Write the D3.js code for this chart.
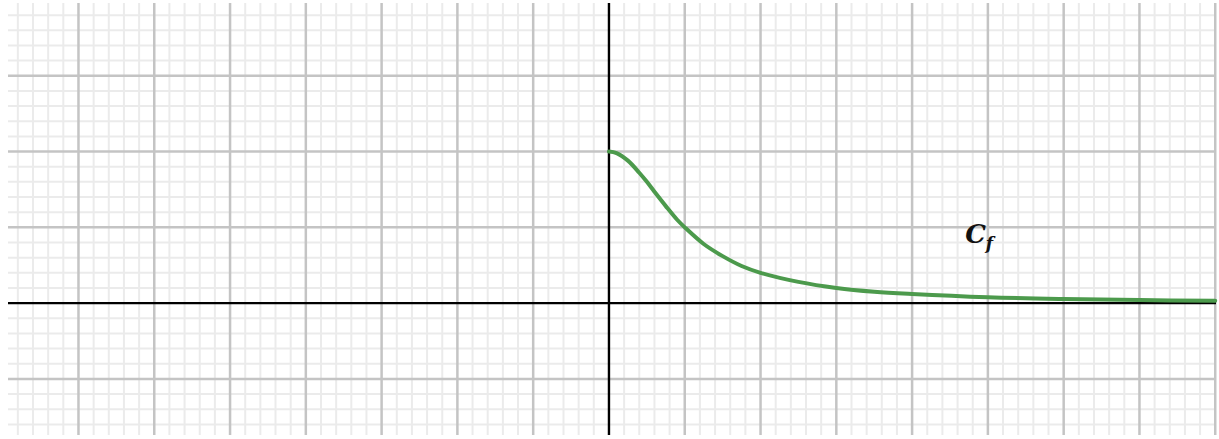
<!DOCTYPE html>
<html>
<head>
<meta charset="utf-8">
<script src="https://cdn.jsdelivr.net/npm/d3@7"></script>
<style>
  body { margin: 0; background: #fff; }
</style>
</head>
<body>
<div id="chart"></div>
<script>
const xs = [0, 0.1, 0.25, 0.4, 0.5, 0.6, 0.75, 0.9, 1, 1.25, 1.5, 1.75, 2, 2.5, 3, 3.5, 4, 5, 6, 7, 8]
const ys = [2, 1.98, 1.88, 1.72, 1.6, 1.47, 1.28, 1.1, 1, 0.78, 0.62, 0.49, 0.4, 0.28, 0.2, 0.15, 0.12, 0.077, 0.054, 0.04, 0.031]
const curveLabel = "C"
const curveSub = "f"

const width = 1219
const height = 439

const svg = d3.select("#chart")
    .append("svg")
    .attr("width", width)
    .attr("height", height)

// one unit is about 75.8px, origin at (609, 303)
const x = d3.scaleLinear().domain([-7.93, 8.01]).range([8, 1216])
const y = d3.scaleLinear().domain([-1.74, 3.96]).range([435, 3])

const minorX = d3.range(-7.8, 8.01, 0.2).map(d => Math.round(d * 10) / 10)
const minorY = d3.range(-1.6, 3.96, 0.2).map(d => Math.round(d * 10) / 10)
const majorX = d3.range(-7, 9, 1)
const majorY = d3.range(-1, 4, 1)

const grid = svg.append("g")

// minor grid
grid.selectAll(".mx")
    .data(minorX.filter(d => Math.abs(d - Math.round(d)) > 0.01))
    .enter().append("line")
    .attr("x1", d => x(d)).attr("x2", d => x(d))
    .attr("y1", y.range()[1]).attr("y2", y.range()[0])
    .style("stroke", "#ebebeb").style("stroke-width", 2)

grid.selectAll(".my")
    .data(minorY.filter(d => Math.abs(d - Math.round(d)) > 0.01))
    .enter().append("line")
    .attr("x1", x.range()[0]).attr("x2", x.range()[1])
    .attr("y1", d => y(d)).attr("y2", d => y(d))
    .style("stroke", "#ebebeb").style("stroke-width", 2)

// major grid
grid.selectAll(".Mx")
    .data(majorX.filter(d => d != 0))
    .enter().append("line")
    .attr("x1", d => x(d)).attr("x2", d => x(d))
    .attr("y1", y.range()[1]).attr("y2", y.range()[0])
    .style("stroke", "#c4c4c4").style("stroke-width", 2.5)

grid.selectAll(".My")
    .data(majorY.filter(d => d != 0))
    .enter().append("line")
    .attr("x1", x.range()[0]).attr("x2", x.range()[1])
    .attr("y1", d => y(d)).attr("y2", d => y(d))
    .style("stroke", "#c4c4c4").style("stroke-width", 2.5)

// axes
svg.append("line")
    .attr("x1", x.range()[0]).attr("x2", x.range()[1])
    .attr("y1", y(0)).attr("y2", y(0))
    .style("stroke", "#000").style("stroke-width", 2.4)

svg.append("line")
    .attr("x1", x(0)).attr("x2", x(0))
    .attr("y1", y.range()[1]).attr("y2", y.range()[0])
    .style("stroke", "#000").style("stroke-width", 2.4)

// curve
const pts = xs.map((d, i) => [d, ys[i]])
const line = d3.line()
    .x(d => x(d[0]))
    .y(d => y(d[1]))
    .curve(d3.curveCatmullRom)

svg.append("path")
    .datum(pts)
    .attr("d", line)
    .style("fill", "none")
    .style("stroke", "#4c9a4c")
    .style("stroke-width", 4)
    .style("stroke-linecap", "round")

// label
const label = svg.append("text")
    .attr("x", x(4.7))
    .attr("y", y(0.79))
    .style("font-family", "'DejaVu Serif', serif")
    .style("font-style", "italic")
    .style("font-weight", "bold")
    .style("font-size", "26px")
    .style("fill", "#111")
label.append("tspan").text(curveLabel)
label.append("tspan")
    .attr("dy", 6)
    .style("font-size", "17px")
    .text(curveSub)
</script>
</body>
</html>
